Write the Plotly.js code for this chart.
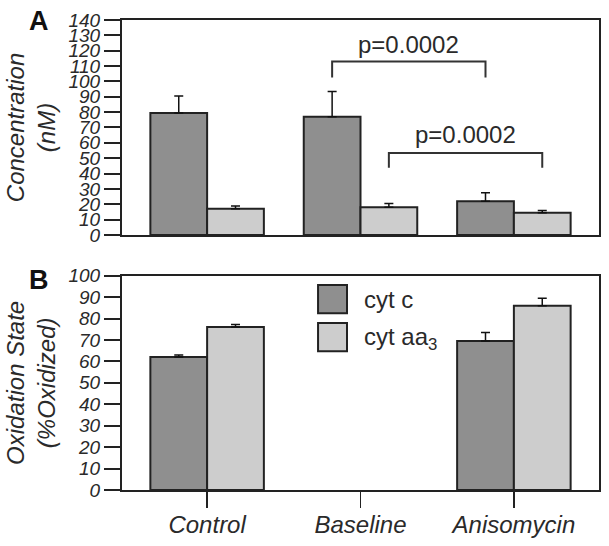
<!DOCTYPE html>
<html>
<head>
<meta charset="utf-8">
<script src="https://cdn.plot.ly/plotly-3.0.1.min.js"></script>
<style>html,body{margin:0;padding:0;background:#fff;}#chart{width:609px;height:546px;}</style>
</head>
<body>
<div id="chart"></div>
<script>
// ---- data ----
var categories = ["Control", "Baseline", "Anisomycin"];
var seriesNames = ["cyt c", "cyt aa<sub>3</sub>"];
// Panel A: Concentration (nM)
var concCytC = [79.5, 77, 22];
var concCytCErr = [11, 16.5, 5.5];
var concCytAA3 = [17, 18, 14.5];
var concCytAA3Err = [1.8, 2.5, 1.5];
// Panel B: Oxidation state (% oxidized)
var oxCytC = [62, null, 69.5];
var oxCytCErr = [1, null, 4];
var oxCytAA3 = [76, null, 86];
var oxCytAA3Err = [1.2, null, 3.5];
// significance labels
var pLabels = ["p=0.0002", "p=0.0002"];

// ---- style ----
var darkCol = "#8f8f8f", lightCol = "#cdcdcd", edge = "#222222";
var FONT = "Liberation Sans, Arial, sans-serif";
var bargap = 0.26;
var off = (1 - bargap) / 4;

function zeros(a){ return a.map(function(v){ return v === null ? null : 0; }); }
function bar(y, err, col, xa, ya){
  return {
    type: "bar", x: categories, y: y, xaxis: xa, yaxis: ya,
    marker: {color: col, line: {color: edge, width: 2}},
    error_y: {type: "data", array: err, arrayminus: zeros(err), symmetric: false,
              color: "#111", thickness: 1.5, width: 4.5},
    showlegend: false, hoverinfo: "skip"
  };
}

var traces = [
  bar(concCytC, concCytCErr, darkCol, "x", "y"),
  bar(concCytAA3, concCytAA3Err, lightCol, "x", "y"),
  bar(oxCytC, oxCytCErr, darkCol, "x2", "y2"),
  bar(oxCytAA3, oxCytAA3Err, lightCol, "x2", "y2")
];

var tickFont = {family: FONT, size: 19, color: "#2a2a2a", style: "italic"};
var titleFont = {family: FONT, size: 24, color: "#2a2a2a", style: "italic"};

function yax(domain, range, title, anchor){
  return {
    domain: domain, range: range, dtick: 10, tick0: 0, anchor: anchor,
    ticks: "outside", ticklen: 16, tickwidth: 2, tickcolor: edge,
    showline: true, linecolor: edge, linewidth: 2, mirror: true,
    showgrid: false, zeroline: false, tickfont: tickFont,
    title: {text: title, font: titleFont, standoff: 6}, automargin: false
  };
}
function xax(domainAnchor, showLabels){
  return {
    domain: [0, 1], range: [-0.555, 2.555], anchor: domainAnchor,
    type: "category",
    ticks: showLabels ? "outside" : "", ticklen: 16, tickwidth: 1.5, tickcolor: edge,
    showticklabels: showLabels, ticklabelstandoff: -4,
    showline: true, linecolor: edge, linewidth: 2, mirror: true,
    showgrid: false, zeroline: false,
    tickfont: {family: FONT, size: 24, color: "#2a2a2a", style: "italic"},
    automargin: false
  };
}

// bracket geometry (panel A)
var brackets = [
  {x0: 1 - off, x1: 2 - off, top: 113, leg: 102.5, label: pLabels[0], ty: 124},
  {x0: 1 + off, x1: 2 + off, top: 53.4, leg: 43.8, label: pLabels[1], ty: 65.3}
];
var shapes = [], annotations = [];
brackets.forEach(function(b){
  shapes.push({type: "path", xref: "x", yref: "y",
    path: "M" + b.x0 + "," + b.leg + " L" + b.x0 + "," + b.top + " L" + b.x1 + "," + b.top + " L" + b.x1 + "," + b.leg,
    line: {color: "#333", width: 2}});
  annotations.push({xref: "x", yref: "y", x: (b.x0 + b.x1) / 2, y: b.ty, text: b.label,
    showarrow: false, xanchor: "center", yanchor: "middle",
    font: {family: FONT, size: 24, color: "#2a2a2a"}});
});

// legend (panel B)
var legendCols = [darkCol, lightCol];
var legTop = [0.436, 0.3553], boxH = 0.06;
legendCols.forEach(function(c, i){
  shapes.push({type: "rect", xref: "paper", yref: "paper",
    x0: 0.411, x1: 0.4717, y0: legTop[i] - boxH, y1: legTop[i],
    fillcolor: c, line: {color: edge, width: 2}});
  annotations.push({xref: "paper", yref: "paper", x: 0.503, y: legTop[i] - boxH / 2 - (i ? 0.004 : 0),
    text: seriesNames[i], showarrow: false, xanchor: "left", yanchor: "middle",
    font: {family: FONT, size: 24, color: "#2a2a2a"}});
});

// panel letters
[["A", 0.998], ["B", 0.447]].forEach(function(p){
  annotations.push({xref: "paper", yref: "paper", x: -0.174, y: p[1], text: "<b>" + p[0] + "</b>",
    showarrow: false, xanchor: "center", yanchor: "middle",
    font: {family: FONT, size: 27, color: "#111"}});
});

var layout = {
  width: 609, height: 546,
  margin: {l: 122, r: 10, t: 20, b: 56},
  paper_bgcolor: "#fff", plot_bgcolor: "#fff",
  barmode: "group", bargap: bargap, bargroupgap: 0,
  showlegend: false,
  xaxis: xax("y", false),
  yaxis: yax([0.5426, 1], [0, 140], "Concentration<br>(nM)", "x"),
  xaxis2: xax("y2", true),
  yaxis2: yax([0, 0.456], [0, 100], "Oxidation State<br>(%Oxidized)", "x2"),
  shapes: shapes, annotations: annotations
};

Plotly.newPlot("chart", traces, layout, {staticPlot: true, displayModeBar: false});
</script>
</body>
</html>
